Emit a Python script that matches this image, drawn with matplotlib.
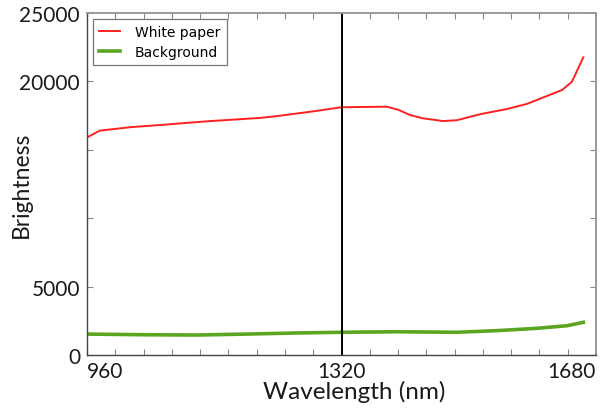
import matplotlib
matplotlib.use("Agg")
import matplotlib.pyplot as plt
import numpy as np

# Spectral brightness readings
wl_paper = [960, 978, 1021, 1068, 1129, 1205, 1233, 1280, 1320, 1384, 1400, 1417,
            1435, 1464, 1483, 1516, 1554, 1582, 1606, 1632, 1646, 1662]
paper = [15900, 16400, 16650, 16830, 17080, 17330, 17490, 17810, 18110, 18150, 17930, 17540,
         17300, 17100, 17160, 17600, 17980, 18350, 18840, 19370, 19980, 21760]

wl_bg = [960, 1044, 1115, 1186, 1257, 1318, 1398, 1483, 1540, 1596, 1639, 1662]
bg = [1530, 1480, 1460, 1530, 1610, 1660, 1700, 1660, 1780, 1950, 2140, 2390]

marker_wl = 1320
x_ticks = list(range(960, 1681, 40))
x_labels = {960: "960", 1320: "1320", 1680: "1680"}
y_ticks = [0, 5000, 10000, 15000, 20000, 25000]
y_labels = {0: "0", 5000: "5000", 20000: "20000", 25000: "25000"}

FONT = "Lato"

fig = plt.figure(figsize=(6.13, 4.10), dpi=100)
ax = fig.add_axes([0.1419, 0.1317, 0.9723 - 0.1419, 0.9659 - 0.1317])

ax.plot(wl_paper, paper, color="#ff2020", lw=1.4, label="White paper")
ax.plot(wl_bg, bg, color="#5ba621", lw=2.6, label="Background")
ax.axvline(marker_wl, color="black", lw=1.4)

ax.set_xlim(960, 1680)
ax.set_ylim(0, 25000)

ax.set_xticks(x_ticks)
ax.set_xticklabels([x_labels.get(t, "") for t in x_ticks], fontsize=15, family=FONT)
ax.set_yticks(y_ticks)
ax.set_yticklabels([y_labels.get(t, "") for t in y_ticks], fontsize=15, family=FONT)

for lab, t in zip(ax.get_xticklabels(), x_ticks):
    if t == 960:
        lab.set_ha("left")
    elif t == 1680:
        lab.set_ha("right")

ax.tick_params(direction="in", length=4, width=0.8, color="#888888",
               top=True, right=True, pad=4, labelcolor="#1a1a1a")
ax.tick_params(axis="y", pad=5)

for side in ("left", "bottom"):
    ax.spines[side].set_color("#444444")
    ax.spines[side].set_linewidth(1.0)
for side in ("top", "right"):
    ax.spines[side].set_color("#999999")
    ax.spines[side].set_linewidth(1.4)

ax.set_xlabel("Wavelength (nm)", fontsize=17.5, family=FONT, color="#1a1a1a")
ax.xaxis.set_label_coords(0.524, -0.073)
ax.set_ylabel("Brightness", fontsize=16.5, family=FONT, color="#1a1a1a")
ax.yaxis.set_label_coords(-0.108, 0.5)

leg = ax.legend(loc="upper left", prop={"family": "DejaVu Sans", "size": 10},
                handlelength=1.5, handletextpad=1.1, borderaxespad=0.4,
                fancybox=False, framealpha=1, edgecolor="#777777", borderpad=0.45,
                labelspacing=0.45)
leg.get_frame().set_linewidth(0.9)

fig.savefig("out.png", dpi=100)
